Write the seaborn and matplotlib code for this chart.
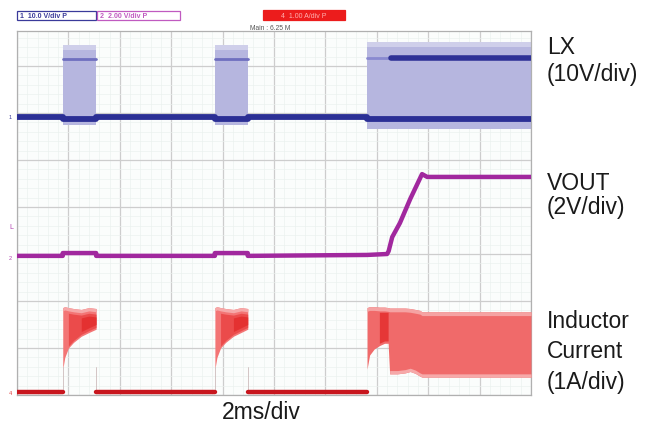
import numpy as np
import pandas as pd
import matplotlib
matplotlib.use("Agg")
import matplotlib.pyplot as plt
from matplotlib.patches import Rectangle
import seaborn as sns

# ---------------- data (units: screen divisions; x: 2 ms/div) ----------------
# LX (10 V/div)
lx_base_x = [0.0, 0.89, 0.89, 1.54, 1.54, 3.85, 3.85, 4.49, 4.49, 6.81, 6.81, 10.0]
lx_base_y = [5.91, 5.91, 5.87, 5.87, 5.91, 5.91, 5.87, 5.87, 5.91, 5.91, 5.87, 5.87]
lx_burst_start = [0.89, 3.85, 6.81]
lx_burst_end = [1.54, 4.49, 10.0]
lx_burst_top = [7.45, 7.45, 7.52]
lx_burst_bottom = [5.74, 5.74, 5.66]
lx_high_level = [7.15, 7.15, 7.16]
lx_high_dark_start = 7.27

# VOUT (2 V/div)
vout_x = [0.0, 0.89, 0.89, 1.54, 1.54, 3.85, 3.85, 4.49, 4.49, 6.81, 7.20, 7.23,
          7.30, 7.45, 7.65, 7.88, 7.98, 10.0]
vout_y = [2.96, 2.96, 3.02, 3.02, 2.96, 2.96, 3.02, 3.02, 2.96, 2.98, 3.00, 3.06,
          3.36, 3.66, 4.17, 4.70, 4.64, 4.64]

# Inductor current (1 A/div)
il_base_start = [0.0, 1.54, 4.49]
il_base_end = [0.89, 3.85, 6.81]
il_base_level = 0.06
il_p1_x = [0.89, 0.93, 1.00, 1.10, 1.25, 1.40, 1.54]
il_p2_x = [3.85, 3.89, 3.96, 4.06, 4.21, 4.36, 4.49]
il_p_lo = [0.55, 0.80, 1.00, 1.12, 1.25, 1.33, 1.40]
il_p_hi = [1.86, 1.88, 1.86, 1.84, 1.82, 1.86, 1.84]
il_b3_x = [6.81, 6.86, 6.95, 7.05, 7.15, 7.22, 7.25, 7.40, 7.55, 7.65, 7.75, 7.84, 7.88, 10.0]
il_b3_lo = [0.55, 0.85, 0.98, 1.05, 1.10, 1.10, 0.45, 0.45, 0.47, 0.50, 0.46, 0.40, 0.38, 0.38]
il_b3_hi = [1.86, 1.88, 1.88, 1.87, 1.87, 1.86, 1.85, 1.85, 1.85, 1.84, 1.82, 1.80, 1.77, 1.77]

right_labels = ["LX", "(10V/div)", "VOUT", "(2V/div)", "Inductor", "Current", "(1A/div)"]
header_labels = ["1  10.0 V/div P", "2  2.00 V/div P", "4  1.00 A/div P"]
x_label = "2ms/div"
main_label = "Main : 6.25 M"

# ---------------- figure ----------------
sns.set_theme(style="white")
plt.rcParams['font.family'] = ['Liberation Sans', 'DejaVu Sans']

W, H = 665, 431
fig = plt.figure(figsize=(W / 100, H / 100), dpi=100)
fig.patch.set_facecolor("white")
ax = fig.add_axes([17 / W, 35 / H, 514 / W, 364 / H])
ax.set_facecolor("#fbfdfc")
ax.set_xlim(0, 10)
ax.set_ylim(0, 364 / 47)

ax.set_xticks(np.arange(0, 11, 1))
ax.set_xticks(np.arange(0, 10.01, 0.2), minor=True)
ax.set_yticks(np.arange(0, 8, 1))
ax.set_yticks(np.arange(0, 7.7, 0.2), minor=True)
ax.tick_params(which="both", length=0, labelbottom=False, labelleft=False)
ax.grid(which="minor", color="#ebf1ee", lw=0.45)
ax.grid(which="major", color="#cdcdcd", lw=0.9)
ax.set_axisbelow(True)
for s in ax.spines.values():
    s.set_color("#b0b0b0")
    s.set_linewidth(0.9)

# LX bursts
for i, (a, b) in enumerate(zip(lx_burst_start, lx_burst_end)):
    ax.fill_between([a, b], [lx_burst_bottom[i]] * 2, [lx_burst_top[i]] * 2,
                    color="#b6b6df", lw=0, zorder=2)
    ax.fill_between([a, b], [lx_burst_top[i] - 0.12] * 2, [lx_burst_top[i]] * 2,
                    color="#cfcfea", lw=0, zorder=2)
    if i < 2:
        sns.lineplot(x=[a, b], y=[lx_high_level[i]] * 2, ax=ax, color="#6f6fbf",
                     lw=2.0, estimator=None, sort=False, zorder=3)
    else:
        sns.lineplot(x=[a, lx_high_dark_start], y=[lx_high_level[i]] * 2, ax=ax,
                     color="#8a8ad0", lw=2.0, estimator=None, sort=False, zorder=3)
        sns.lineplot(x=[lx_high_dark_start, b], y=[lx_high_level[i]] * 2, ax=ax,
                     color="#2e3196", lw=4.0, estimator=None, sort=False, zorder=3)
sns.lineplot(x=lx_base_x, y=lx_base_y, ax=ax, color="#2b2f95", lw=4.2,
             estimator=None, sort=False, zorder=4)

# VOUT
sns.lineplot(x=vout_x, y=vout_y, ax=ax, color="#a1289e", lw=3.2,
             estimator=None, sort=False, zorder=4)

# Inductor current
for a, b in zip(il_base_start, il_base_end):
    sns.lineplot(x=[a, b], y=[il_base_level] * 2, ax=ax, color="#c8161e", lw=3.2,
                 estimator=None, sort=False, zorder=4)
for px in (il_p1_x, il_p2_x):
    ax.fill_between(px, il_p_lo, il_p_hi, color="#f37575", lw=0, zorder=3)
    ax.fill_between(px[2:], [l + 0.04 for l in il_p_lo[2:]],
                    [h - 0.12 for h in il_p_hi[2:]],
                    color="#e52a2a", lw=0, alpha=0.55, zorder=3)
    ax.fill_between(px[4:], [l + 0.1 for l in il_p_lo[4:]],
                    [h - 0.18 for h in il_p_hi[4:]],
                    color="#e02020", lw=0, alpha=0.6, zorder=3)
    ax.fill_between(px, [h - 0.07 for h in il_p_hi], il_p_hi,
                    color="#f6a8a8", lw=0, zorder=3)
    for xe in (px[0], px[-1]):
        sns.lineplot(x=[xe, xe], y=[il_base_level, 0.6], ax=ax, color="#cdbcbc",
                     lw=0.6, estimator=None, sort=False, zorder=3)

ax.fill_between(il_b3_x, il_b3_lo, il_b3_hi, color="#f06a6a", lw=0, zorder=3)
ax.fill_between(il_b3_x[3:6], [l + 0.05 for l in il_b3_lo[3:6]], [1.76] * 3,
                color="#e22222", lw=0, alpha=0.7, zorder=3)
ax.fill_between(il_b3_x, [h - 0.08 for h in il_b3_hi], il_b3_hi,
                color="#f5a3a3", lw=0, zorder=3)
ax.fill_between(il_b3_x[6:], il_b3_lo[6:], [l + 0.07 for l in il_b3_lo[6:]],
                color="#f6a9a9", lw=0, zorder=3)

# ---------------- text ----------------
def fy(p):
    return 1 - p / H

# header boxes
fig.add_artist(Rectangle((17 / W, fy(21)), 79 / W, 9 / H, transform=fig.transFigure,
                         facecolor="white", edgecolor="#3a3a9a", lw=0.9))
fig.add_artist(Rectangle((97 / W, fy(21)), 83 / W, 9 / H, transform=fig.transFigure,
                         facecolor="white", edgecolor="#c05ac0", lw=0.9))
fig.add_artist(Rectangle((263 / W, fy(21)), 82 / W, 10 / H, transform=fig.transFigure,
                         facecolor="#ec1c1c", edgecolor="#ec1c1c", lw=0.9))
fig.text(20 / W, fy(16.5), header_labels[0], fontsize=5, color="#3a3a9a",
         va="center", ha="left", fontweight="bold")
fig.text(100 / W, fy(16.5), header_labels[1], fontsize=5, color="#c05ac0",
         va="center", ha="left", fontweight="bold")
fig.text(304 / W, fy(16), header_labels[2], fontsize=5, color="#ffb0b0",
         va="center", ha="center")
fig.text(270 / W, fy(29), main_label, fontsize=4.8, color="#555555",
         va="center", ha="center")

# channel markers on the left
fig.text(10 / W, fy(118), "1", fontsize=4, color="#3a3a9a", va="center", ha="center")
fig.text(11 / W, fy(228), "L", fontsize=5, color="#b040b0", va="center", ha="center")
fig.text(10 / W, fy(258), "2", fontsize=4, color="#b040b0", va="center", ha="center")
fig.text(10 / W, fy(394), "4", fontsize=4, color="#e04040", va="center", ha="center")

label_y = [48, 75, 184, 208, 322, 352, 382]
for t, y in zip(right_labels, label_y):
    fig.text(547 / W, fy(y), t, fontsize=16.5, color="#1a1a1a", va="center", ha="left")
fig.text(261 / W, fy(413), x_label, fontsize=16.5, color="#1a1a1a",
         va="center", ha="center")

fig.savefig("out.png", dpi=100)
